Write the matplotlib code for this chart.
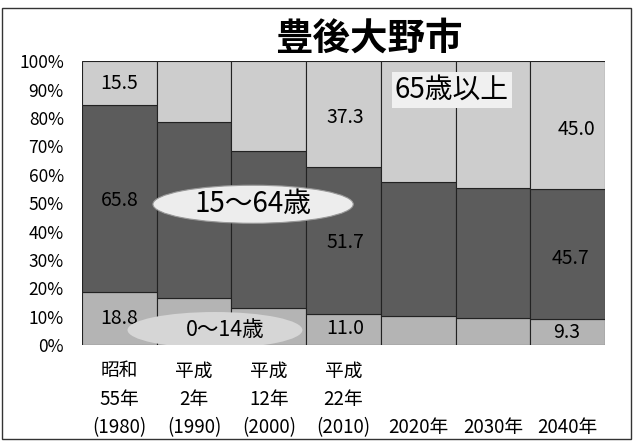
import matplotlib.pyplot as plt
from matplotlib.patches import Ellipse, Rectangle

plt.rcParams['font.family'] = ['Noto Sans CJK JP', 'DejaVu Sans']

# 年齢3区分別人口構成比 (%)
years = ["昭和\n55年\n(1980)", "平成\n2年\n(1990)", "平成\n12年\n(2000)", "平成\n22年\n(2010)",
         "\n\n2020年", "\n\n2030年", "\n\n2040年"]
age_0_14 = [18.8, 16.5, 13.0, 11.0, 10.1, 9.4, 9.3]
age_15_64 = [65.8, 62.1, 55.2, 51.7, 47.5, 45.9, 45.7]
age_65 = [15.5, 21.4, 31.8, 37.3, 42.4, 44.7, 45.0]

x = list(range(len(years)))
bottom2 = [a + b for a, b in zip(age_0_14, age_15_64)]

fig = plt.figure(figsize=(6.35, 4.43), dpi=100)
ax = fig.add_axes([0.129, 0.221, 0.824, 0.641])

ax.bar(x, age_0_14, width=1.0, color="#b4b4b4", edgecolor="#222222", linewidth=0.8)
ax.bar(x, age_15_64, width=1.0, bottom=age_0_14, color="#5c5c5c", edgecolor="#222222", linewidth=0.8)
ax.bar(x, age_65, width=1.0, bottom=bottom2, color="#cdcdcd", edgecolor="#222222", linewidth=0.8)

ax.set_xlim(-0.5, 6.5)
ax.set_ylim(0, 100)
ax.set_yticks(range(0, 101, 10))
ax.set_yticklabels([f"{v}%" for v in range(0, 101, 10)], fontsize=12.5)
ax.set_xticks(x)
ax.set_xticklabels(years, fontsize=13.5, linespacing=1.45)
ax.tick_params(length=0)
ax.tick_params(axis="y", pad=13)
ax.tick_params(axis="x", pad=11)
for s in ax.spines.values():
    s.set_visible(False)

# data labels
lab = dict(ha="center", va="center", fontsize=14)
ax.text(0.0, 92.2, "15.5", **lab)
ax.text(0.0, 51.0, "65.8", **lab)
ax.text(0.0, 9.5, "18.8", **lab)
ax.text(3.02, 80.3, "37.3", **lab)
ax.text(3.02, 36.3, "51.7", **lab)
ax.text(3.02, 6.0, "11.0", **lab)
ax.text(6.12, 76.0, "45.0", **lab)
ax.text(6.03, 30.6, "45.7", **lab)
ax.text(5.99, 4.6, "9.3", **lab)

# group labels
ax.add_patch(Ellipse((1.79, 49.6), 2.68, 13.4, facecolor="#ededed", edgecolor="#999999", lw=0.8, zorder=3))
ax.text(1.79, 49.6, "15〜64歳", ha="center", va="center", fontsize=20, zorder=4)
ax.add_patch(Ellipse((1.28, 5.3), 2.34, 12.7, facecolor="#d6d6d6", edgecolor="none", zorder=3))
ax.text(1.42, 5.3, "0〜14歳", ha="center", va="center", fontsize=15.5, zorder=4)
ax.text(4.45, 89.8, "65歳以上", ha="center", va="center", fontsize=20, zorder=4,
        bbox=dict(boxstyle="square,pad=0.1", facecolor="#f0f0f0", edgecolor="none"))

fig.text(0.58, 0.914, "豊後大野市", ha="center", va="center", fontsize=27, fontweight="bold")

fig.patches.append(Rectangle((0.003, 0.01), 0.99, 0.972, transform=fig.transFigure,
                             fill=False, edgecolor="#333333", linewidth=1.0))

fig.savefig("out.png", dpi=100)
